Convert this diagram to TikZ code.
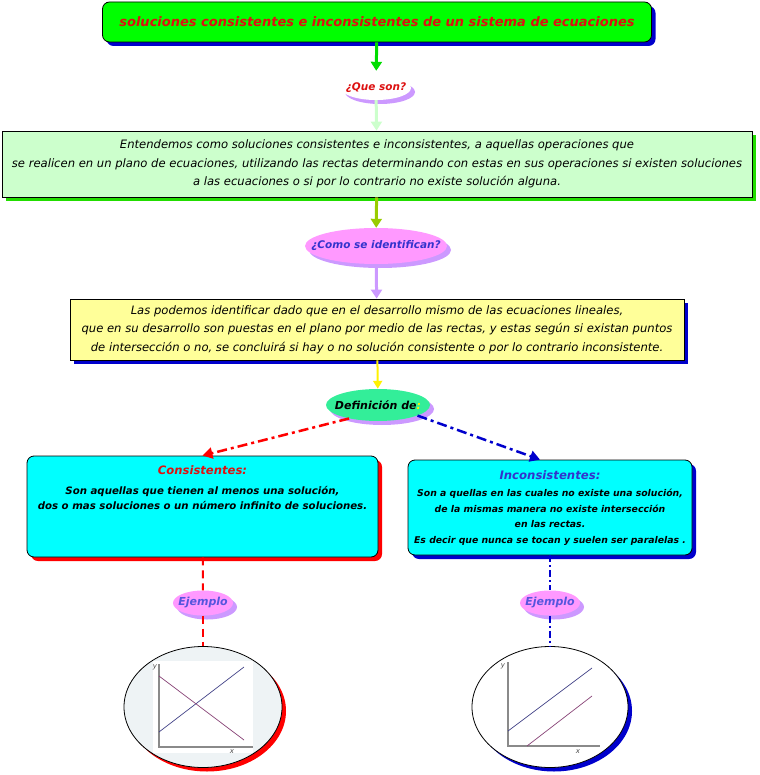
\documentclass[tikz,border=0pt]{standalone}
\usepackage{fontspec}
\setmainfont{DejaVu Sans}
\newfontfamily\decofont{DejaVu Sans}
\usetikzlibrary{positioning,arrows.meta,calc,shapes.geometric,shadows}
\definecolor{brightGreen}{HTML}{00FF00}
\definecolor{arrowGreen}{HTML}{00DD00}
\definecolor{deepBlue}{HTML}{0000CC}
\definecolor{paleMint}{HTML}{CCFFCC}
\definecolor{shadowGreen}{HTML}{22DD00}
\definecolor{lavender}{HTML}{CC99FF}
\definecolor{orchid}{HTML}{FF99FF}
\definecolor{lightYellow}{HTML}{FFFF99}
\definecolor{seaGreen}{HTML}{33EE99}
\definecolor{aquaCyan}{HTML}{00FFFF}
\definecolor{oliveGreen}{HTML}{99CC00}
\definecolor{titleRed}{HTML}{DD1111}
\definecolor{inkBlue}{HTML}{3333CC}
\definecolor{softBlue}{HTML}{5555DD}
\definecolor{plotGrey}{HTML}{EEF3F5}
\definecolor{axisGrey}{HTML}{8A8A8A}
\definecolor{lineBlue}{HTML}{444488}
\definecolor{linePurple}{HTML}{884477}

\tikzset{
  panel/.style={draw=black,line width=0.8pt,inner sep=0pt},
  roundpanel/.style={panel,rounded corners=7pt},
  oval/.style={ellipse,inner xsep=-30pt,inner ysep=-4pt},
  castshadow/.style={general shadow={fill=#1,shadow xshift=4pt,shadow yshift=-4pt}},
  bodytext/.style={font=\fontsize{11.6}{18.5}\selectfont\itshape,align=center},
  flow/.style={line width=3pt,-{Triangle[width=11pt,length=9pt]}},
  dashdot/.style={line width=2.5pt,dash pattern=on 10pt off 4pt on 3pt off 4pt},
}

\begin{document}
\begin{tikzpicture}[x=1pt,y=-1pt]
\useasboundingbox (0,0) rectangle (759,775);

\node[roundpanel,castshadow=deepBlue,fill=brightGreen,minimum width=549pt,minimum height=40pt,
      text=titleRed,font=\decofont\bfseries\itshape\fontsize{13}{16}\selectfont] (title) at (377,22)
  {soluciones consistentes e inconsistentes de un sistema de ecuaciones};

\node[oval,castshadow=lavender,fill=white,minimum width=70pt,minimum height=24pt,
      text=titleRed,font=\decofont\bfseries\itshape\fontsize{10.5}{12}\selectfont] (queson) at (376,88) {¿Que son?};

\node[panel,castshadow=shadowGreen,fill=paleMint,minimum width=750pt,minimum height=66pt,bodytext] (entendemos) at (377,164)
  {Entendemos como soluciones consistentes e inconsistentes, a aquellas operaciones que\\
   se realicen en un plano de ecuaciones, utilizando las rectas determinando con estas en sus operaciones si existen soluciones\\
   a las ecuaciones o si por lo contrario no existe solución alguna.};

\node[oval,castshadow=lavender,fill=orchid,minimum width=142pt,minimum height=36pt,
      text=inkBlue,font=\decofont\bfseries\itshape\fontsize{10.5}{13}\selectfont] (identifican) at (376,246) {¿Como se identifican?};

\node[panel,castshadow=deepBlue,fill=lightYellow,minimum width=614pt,minimum height=61pt,bodytext] (podemos) at (377,329.5)
  {Las podemos identificar dado que en el desarrollo mismo de las ecuaciones lineales,\\
   que en su desarrollo son puestas en el plano por medio de las rectas, y estas según si existan puntos\\
   de intersección o no, se concluirá si hay o no solución consistente o por lo contrario inconsistente.};

\node[oval,castshadow=lavender,fill=seaGreen,minimum width=104pt,minimum height=32pt,
      font=\decofont\bfseries\itshape\fontsize{11}{13}\selectfont] (definicion) at (378,405) {Definición de{\color{yellow}:}};

\node[roundpanel,castshadow=red,fill=aquaCyan,minimum width=351pt,minimum height=101pt] (cons) at (202.5,506.5) {};
\node[below=7pt of cons.north,align=center,font=\decofont\bfseries\itshape\fontsize{10.2}{15}\selectfont] (consText)
  {{\color{titleRed}\fontsize{11.6}{20}\selectfont Consistentes:}\\[5pt]
   Son aquellas que tienen al menos una solución,\\
   dos o mas soluciones o un número infinito de soluciones.};

\node[roundpanel,castshadow=deepBlue,fill=aquaCyan,minimum width=284pt,minimum height=95pt] (incons) at (550,507.5) {};
\node[below=7pt of incons.north,align=center,font=\decofont\bfseries\itshape\fontsize{9.3}{15.5}\selectfont] (inconsText)
  {{\color{inkBlue}\fontsize{11.7}{17}\selectfont Inconsistentes:}\\[2pt]
   Son a quellas en las cuales no existe una solución,\\
   de la mismas manera no existe intersección\\
   en las rectas.\\
   Es decir que nunca se tocan y suelen ser paralelas .};

\node[oval,castshadow=lavender,fill=orchid,minimum width=60pt,minimum height=25pt,
      text=softBlue,font=\decofont\bfseries\itshape\fontsize{11}{12}\selectfont] (ejemploA) at (203,603) {Ejemplo};
\node[oval,castshadow=lavender,fill=orchid,minimum width=60pt,minimum height=25pt,
      text=softBlue,font=\decofont\bfseries\itshape\fontsize{11}{12}\selectfont] (ejemploB) at (550,603) {Ejemplo};

\node[oval,draw=black,line width=0.8pt,castshadow=red,fill=plotGrey,minimum width=158pt,minimum height=121pt] (graphA) at (203,707) {};
\node[oval,draw=black,line width=0.8pt,castshadow=deepBlue,fill=white,minimum width=156pt,minimum height=121pt] (graphB) at (550,707) {};

% connectors
\draw[flow,arrowGreen,shorten >=5pt] (title) -- (queson);
\draw[flow,paleMint] (queson) -- (entendemos);
\draw[flow,oliveGreen] (entendemos) -- (identifican);
\draw[flow,lavender] (identifican) -- (podemos);
\draw[line width=2pt,yellow,-{Triangle[width=9pt,length=8pt]}] (podemos) -- (definicion);
\draw[dashdot,red,-{Triangle[width=11pt,length=10pt]}] (definicion.205) -- (cons.north);
\draw[dashdot,deepBlue,-{Triangle[width=11pt,length=10pt]}] (definicion.-15) -- ($(incons.north)+(-10,0)$);
\draw[red,line width=2pt,dash pattern=on 8pt off 5pt] (cons) -- (ejemploA);
\draw[red,line width=2pt,dash pattern=on 8pt off 5pt] (ejemploA) -- (graphA);
\draw[deepBlue,line width=2pt,dash pattern=on 7pt off 3pt on 2pt off 3pt] (incons) -- (ejemploB);
\draw[deepBlue,line width=2pt,dash pattern=on 7pt off 3pt on 2pt off 3pt] (ejemploB) -- (graphB);

% crossing lines
\fill[white] (153,661) rectangle (253,753);
\draw[axisGrey,line width=1.3pt] (159,664) -- (159,747) -- (253,747);
\draw[lineBlue,line width=0.7pt] (159,732) -- (244,667);
\draw[linePurple,line width=0.7pt] (159,676) -- (244,740);
\node[font=\fontsize{7}{8}\selectfont\itshape,text=black!70] (yA) at (155,667) {y};
\node[font=\fontsize{7}{8}\selectfont\itshape,text=black!70] (xA) at (232,752) {x};

% parallel lines
\draw[axisGrey,line width=1.3pt] (508,662) -- (508,746) -- (600,746);
\draw[lineBlue,line width=0.7pt] (508,731) -- (592,668);
\draw[linePurple,line width=0.7pt] (527,746) -- (592,696);
\node[font=\fontsize{7}{8}\selectfont\itshape,text=black!70] (yB) at (503,666) {y};
\node[font=\fontsize{7}{8}\selectfont\itshape,text=black!70] (xB) at (578,752) {x};
\end{tikzpicture}
\end{document}
